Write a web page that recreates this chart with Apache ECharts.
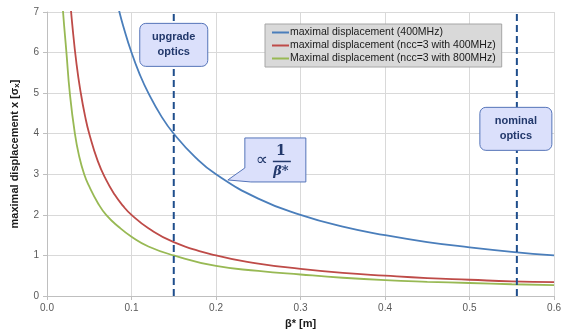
<!DOCTYPE html>
<html><head><meta charset="utf-8">
<script src="https://cdn.jsdelivr.net/npm/echarts@6/dist/echarts.min.js"></script>
<style>html,body{margin:0;padding:0;background:#fff}#c{width:564px;height:334px}</style>
</head><body><div id="c"></div>
<script>
// ---- data ----
var seriesNames = [
  'maximal displacement (400MHz)',
  'maximal displacement (ncc=3 with 400MHz)',
  'Maximal displacement (ncc=3 with 800MHz)'
];
var betaBlue = [0.08, 0.085, 0.09, 0.1, 0.11, 0.12, 0.135, 0.15, 0.175, 0.2, 0.25, 0.3, 0.35, 0.4, 0.45, 0.5, 0.55, 0.6];
var dispBlue = [7.5, 7.06, 6.67, 6.0, 5.45, 5.0, 4.44, 4.0, 3.43, 3.0, 2.4, 2.0, 1.71, 1.5, 1.33, 1.2, 1.09, 1.0];
var betaRed = [0.027, 0.03, 0.035, 0.04, 0.045, 0.05, 0.06, 0.07, 0.08, 0.09, 0.1, 0.12, 0.15, 0.2, 0.25, 0.3, 0.35, 0.4, 0.45, 0.5, 0.55, 0.6];
var dispRed = [7.4, 6.67, 5.71, 5.0, 4.44, 4.0, 3.33, 2.86, 2.5, 2.22, 2.0, 1.67, 1.33, 1.0, 0.8, 0.67, 0.57, 0.5, 0.44, 0.4, 0.36, 0.34];
var betaGreen = [0.018, 0.019, 0.023, 0.027, 0.033, 0.038, 0.044, 0.05, 0.06, 0.07, 0.085, 0.1, 0.12, 0.15, 0.2, 0.25, 0.3, 0.35, 0.4, 0.45, 0.5, 0.55, 0.6];
var dispGreen = [7.4, 7.0, 6.0, 5.0, 4.0, 3.45, 3.0, 2.7, 2.3, 2.0, 1.7, 1.46, 1.22, 1.0, 0.74, 0.62, 0.53, 0.45, 0.39, 0.35, 0.32, 0.29, 0.27];
var opticsBeta = [0.15, 0.556];          // upgrade, nominal
var opticsLabels = ['upgrade\noptics', 'nominal\noptics'];
var calloutAnchor = [0.214, 2.86];      // point on the blue curve the callout refers to

function pairs(xs, ys) { return xs.map(function (x, i) { return [x, ys[i]]; }); }

var colors = ['#4a7ebb', '#be4b48', '#98b954'];
var chart = echarts.init(document.getElementById('c'), null, {renderer: 'canvas'});
var font = 'Liberation Sans';

function lineSeries(i, xs, ys) {
  return {
    name: seriesNames[i], type: 'line', data: pairs(xs, ys),
    smooth: 0.5, showSymbol: false, clip: true,
    lineStyle: {color: colors[i], width: 1.8}, itemStyle: {color: colors[i]},
    z: 3
  };
}

var option = {
  animation: false,
  grid: {left: 47, right: 7, top: 12, bottom: 38, containLabel: false},
  legend: {
    orient: 'vertical', left: 265, top: 24,
    backgroundColor: '#d9d9d9', borderColor: '#a6a6a6', borderWidth: 1,
    padding: [3, 6, 3, 7], itemGap: 2,
    icon: 'rect', itemWidth: 17, itemHeight: 2,
    textStyle: {fontFamily: font, fontSize: 10.5, color: '#1a1a1a', padding: [0, 0, 0, -4]},
    data: seriesNames
  },
  xAxis: {
    type: 'value', min: 0, max: 0.6, interval: 0.1,
    name: 'β* [m]', nameLocation: 'middle', nameGap: 22,
    nameTextStyle: {fontFamily: font, fontSize: 11, fontWeight: 'bold', color: '#1a1a1a'},
    axisLine: {show: true, lineStyle: {color: '#bfbfbf'}},
    axisTick: {show: true, length: 4, lineStyle: {color: '#bfbfbf'}},
    axisLabel: {fontFamily: font, fontSize: 10, color: '#595959', margin: 7,
      formatter: function (v) { return v.toFixed(1); }},
    splitLine: {show: true, lineStyle: {color: '#d9d9d9', width: 1}}
  },
  yAxis: {
    type: 'value', min: 0, max: 7, interval: 1,
    name: 'maximal displacement x [σ{sub|x}]', nameLocation: 'middle', nameGap: 26,
    nameTextStyle: {fontFamily: font, fontSize: 11, fontWeight: 'bold', color: '#1a1a1a',
      rich: {sub: {fontFamily: font, fontSize: 8, fontWeight: 'bold', color: '#1a1a1a', verticalAlign: 'bottom', padding: [4, 0, 0, 0]}}},
    axisLine: {show: true, lineStyle: {color: '#bfbfbf'}},
    axisTick: {show: true, length: 4, lineStyle: {color: '#bfbfbf'}},
    axisLabel: {fontFamily: font, fontSize: 10, color: '#595959', margin: 8},
    splitLine: {show: true, lineStyle: {color: '#d9d9d9', width: 1}}
  },
  series: [
    lineSeries(0, betaBlue, dispBlue),
    lineSeries(1, betaRed, dispRed),
    lineSeries(2, betaGreen, dispGreen)
  ]
};
chart.setOption(option);

// ---- dashed optics lines and annotation boxes, positioned via the chart's own scales ----
var fill = '#dbe0fb', stroke = '#5574b9', txt = '#22386b';
var Z = 100;
function toPx(x, y) { return chart.convertToPixel({gridIndex: 0}, [x, y]); }
function dashLine(b) {
  var p0 = toPx(b, 0), p1 = toPx(b, 7);
  return {type: 'line', z: 50, shape: {x1: p0[0], y1: p0[1], x2: p1[0], y2: p1[1]},
    style: {stroke: '#1f4e8c', lineWidth: 2, lineDash: [7, 4]}};
}
function roundBox(cx, cy, w, h, label) {
  return {
    type: 'group',
    children: [
      {type: 'rect', z: Z, shape: {x: cx - w / 2, y: cy - h / 2, width: w, height: h, r: 6},
        style: {fill: fill, stroke: stroke, lineWidth: 1}},
      {type: 'text', z: Z + 1, x: cx, y: cy,
        style: {text: label, fill: txt, font: 'bold 11px "' + font + '"', align: 'center',
          verticalAlign: 'middle', lineHeight: 15}}
    ]
  };
}
var up = toPx(opticsBeta[0], 6.19);
var nom = toPx(opticsBeta[1], 4.12);
var tip = toPx(calloutAnchor[0], calloutAnchor[1]);
var bx = tip[0] + 17, by = tip[1] - 42, bw = 61, bh = 44;
var callout = {
  type: 'group',
  children: [
    {type: 'polygon', z: Z, shape: {points: [
      [bx, by], [bx + bw, by], [bx + bw, by + bh], [bx + 6, by + bh],
      [tip[0], tip[1]], [bx, by + bh - 14]
    ]}, style: {fill: fill, stroke: stroke, lineWidth: 1}},
    {type: 'text', z: Z + 1, x: bx + 17, y: by + 23,
      style: {text: '∝', fill: txt, font: '17px "DejaVu Sans"', align: 'center', verticalAlign: 'middle'}},
    {type: 'text', z: Z + 1, x: bx + 36, y: by + 13,
      style: {text: '1', fill: txt, font: 'bold 14px "DejaVu Serif"', align: 'center', verticalAlign: 'middle'}},
    {type: 'line', z: Z + 1, shape: {x1: bx + 28, y1: by + 23.5, x2: bx + 46, y2: by + 23.5},
      style: {stroke: txt, lineWidth: 1.5}},
    {type: 'text', z: Z + 1, x: bx + 36, y: by + 34,
      style: {text: 'β*', fill: txt, font: 'bold italic 13px "DejaVu Serif"', align: 'center', verticalAlign: 'middle'}}
  ]
};
chart.setOption({graphic: [
  dashLine(opticsBeta[0]),
  dashLine(opticsBeta[1]),
  roundBox(up[0], up[1], 68, 43, opticsLabels[0]),
  roundBox(nom[0] - 1, nom[1], 72, 43, opticsLabels[1]),
  callout
]});
</script></body></html>
